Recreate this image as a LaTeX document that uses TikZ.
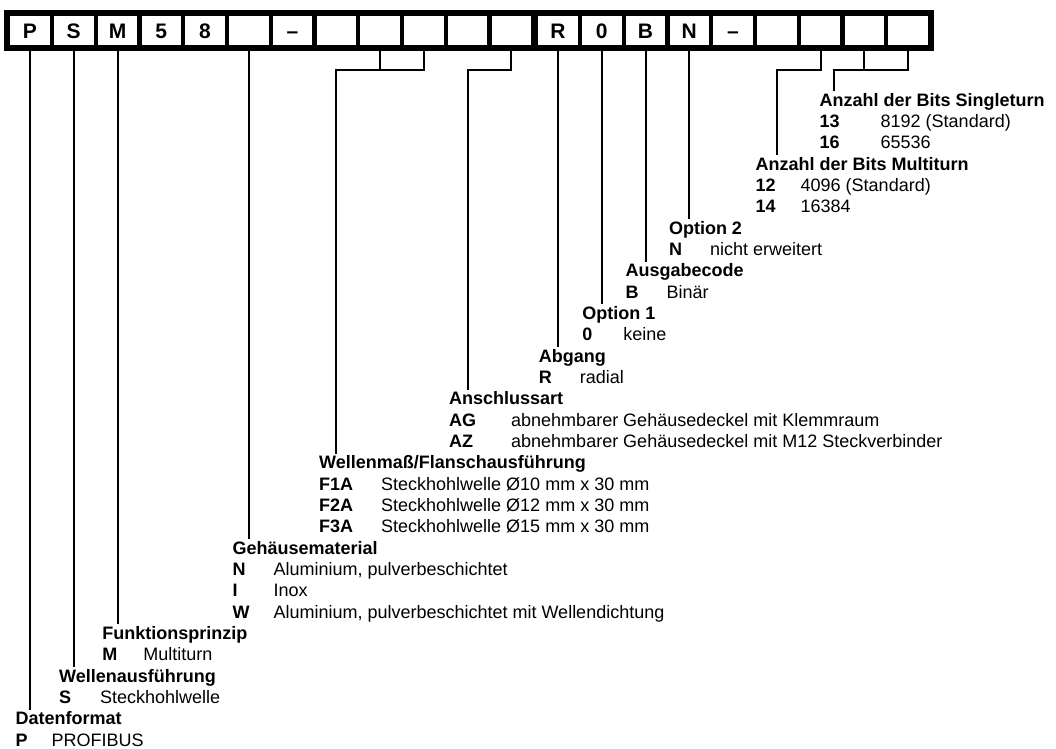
\documentclass[tikz,border=0pt]{standalone}
\usepackage{fontspec}
\setmainfont{Liberation Sans}
\usetikzlibrary{positioning,fit,backgrounds}

\begin{document}
\begin{tikzpicture}[x=1pt,y=-1pt,
    every node/.style={font=\fontsize{18pt}{21.33pt}\selectfont},
    cell/.style={rectangle, fill=white, minimum width=39.5pt, minimum height=29pt, inner sep=0pt,
                 text height=15pt, text depth=0pt, font=\fontsize{21pt}{24pt}\selectfont\bfseries},
    legend/.style={anchor=north west, inner sep=0pt, align=left},
    lead/.style={line width=2pt}]
            \useasboundingbox (0,0) rectangle (1056,748);

            % Type code row
            \node[cell] (c0) at (30,30.5) {P};
            \node[cell, right=3.85pt of c0] (c1) {S};
            \node[cell, right=3.85pt of c1] (c2) {M};
            \node[cell, right=3.85pt of c2] (c3) {5};
            \node[cell, right=3.85pt of c3] (c4) {8};
            \node[cell, right=3.85pt of c4] (c5) {};
            \node[cell, right=3.85pt of c5] (c6) {--};
            \node[cell, right=3.85pt of c6] (c7) {};
            \node[cell, right=3.85pt of c7] (c8) {};
            \node[cell, right=3.85pt of c8] (c9) {};
            \node[cell, right=3.85pt of c9] (c10) {};
            \node[cell, right=3.85pt of c10] (c11) {};
            \node[cell, right=6.85pt of c11] (c12) {R};
            \node[cell, right=3.85pt of c12] (c13) {0};
            \node[cell, right=3.85pt of c13] (c14) {B};
            \node[cell, right=3.85pt of c14] (c15) {N};
            \node[cell, right=3.85pt of c15] (c16) {--};
            \node[cell, right=3.85pt of c16] (c17) {};
            \node[cell, right=3.85pt of c17] (c18) {};
            \node[cell, right=3.85pt of c18] (c19) {};
            \node[cell, right=3.85pt of c19] (c20) {};

            \begin{scope}[on background layer]
                \node[fit=(c0)(c20), fill=black, inner xsep=6pt, inner ysep=6pt] (frame) {};
            \end{scope}

            % Legends
            \node[legend] (singleturn) at (819.5,91) {\begin{tabular}{@{}p{61pt}@{}l@{}}
                \multicolumn{2}{@{}l@{}}{\bfseries Anzahl der Bits Singleturn}\\
                \bfseries 13 & 8192 (Standard)\\
                \bfseries 16 & 65536
            \end{tabular}};

            \node[legend] (multiturn) at (755.5,155) {\begin{tabular}{@{}p{45pt}@{}l@{}}
                \multicolumn{2}{@{}l@{}}{\bfseries Anzahl der Bits Multiturn}\\
                \bfseries 12 & 4096 (Standard)\\
                \bfseries 14 & 16384
            \end{tabular}};

            \node[legend] (option2) at (668.8,219) {\begin{tabular}{@{}p{41pt}@{}l@{}}
                \multicolumn{2}{@{}l@{}}{\bfseries Option 2}\\
                \bfseries N & nicht erweitert
            \end{tabular}};

            \node[legend] (ausgabe) at (625.4,261.7) {\begin{tabular}{@{}p{41pt}@{}l@{}}
                \multicolumn{2}{@{}l@{}}{\bfseries Ausgabecode}\\
                \bfseries B & Binär
            \end{tabular}};

            \node[legend] (option1) at (582.1,304.3) {\begin{tabular}{@{}p{41pt}@{}l@{}}
                \multicolumn{2}{@{}l@{}}{\bfseries Option 1}\\
                \bfseries 0 & keine
            \end{tabular}};

            \node[legend] (abgang) at (538.7,347) {\begin{tabular}{@{}p{41pt}@{}l@{}}
                \multicolumn{2}{@{}l@{}}{\bfseries Abgang}\\
                \bfseries R & radial
            \end{tabular}};

            \node[legend] (anschluss) at (449,389.7) {\begin{tabular}{@{}p{62pt}@{}l@{}}
                \multicolumn{2}{@{}l@{}}{\bfseries Anschlussart}\\
                \bfseries AG & abnehmbarer Gehäusedeckel mit Klemmraum\\
                \bfseries AZ & abnehmbarer Gehäusedeckel mit M12 Steckverbinder
            \end{tabular}};

            \node[legend] (wellenmass) at (319,453.7) {\begin{tabular}{@{}p{62pt}@{}l@{}}
                \multicolumn{2}{@{}l@{}}{\bfseries Wellenmaß/Flanschausführung}\\
                \bfseries F1A & Steckhohlwelle Ø10 mm x 30 mm\\
                \bfseries F2A & Steckhohlwelle Ø12 mm x 30 mm\\
                \bfseries F3A & Steckhohlwelle Ø15 mm x 30 mm
            \end{tabular}};

            \node[legend] (gehaeuse) at (232.3,539) {\begin{tabular}{@{}p{41pt}@{}l@{}}
                \multicolumn{2}{@{}l@{}}{\bfseries Gehäusematerial}\\
                \bfseries N & Aluminium, pulverbeschichtet\\
                \bfseries I & Inox\\
                \bfseries W & Aluminium, pulverbeschichtet mit Wellendichtung
            \end{tabular}};

            \node[legend] (funktion) at (102.2,624.3) {\begin{tabular}{@{}p{41pt}@{}l@{}}
                \multicolumn{2}{@{}l@{}}{\bfseries Funktionsprinzip}\\
                \bfseries M & Multiturn
            \end{tabular}};

            \node[legend] (welle) at (58.9,667) {\begin{tabular}{@{}p{41pt}@{}l@{}}
                \multicolumn{2}{@{}l@{}}{\bfseries Wellenausführung}\\
                \bfseries S & Steckhohlwelle
            \end{tabular}};

            \node[legend] (daten) at (15.5,709.7) {\begin{tabular}{@{}p{36pt}@{}l@{}}
                \multicolumn{2}{@{}l@{}}{\bfseries Datenformat}\\
                \bfseries P & PROFIBUS
            \end{tabular}};

            % Leader lines
            \coordinate (kF) at (c7.south |- 0,70);
            \coordinate (kA) at (c10.south |- 0,70);
            \coordinate (kM) at (c17.south |- 0,70);
            \coordinate (kS) at (834,70);

            \draw[lead] (c0.south) -- (c0.south |- daten.north);
            \draw[lead] (c1.south) -- (c1.south |- welle.north);
            \draw[lead] (c2.south) -- (c2.south |- funktion.north);
            \draw[lead] (c5.south) -- (c5.south |- gehaeuse.north);
            \draw[lead] (c8.south) -- (c8.south |- kF);
            \draw[lead] (c9.south) |- (kF) -- (kF |- wellenmass.north);
            \draw[lead] (c11.south) |- (kA) -- (kA |- anschluss.north);
            \draw[lead] (c12.south) -- (c12.south |- abgang.north);
            \draw[lead] (c13.south) -- (c13.south |- option1.north);
            \draw[lead] (c14.south) -- (c14.south |- ausgabe.north);
            \draw[lead] (c15.south) -- (c15.south |- option2.north);
            \draw[lead] (c18.south) |- (kM) -- (kM |- multiturn.north);
            \draw[lead] (c19.south) -- (c19.south |- kS);
            \draw[lead] (c20.south) |- (kS) -- (kS |- singleturn.north);
        \end{tikzpicture}
\end{document}
